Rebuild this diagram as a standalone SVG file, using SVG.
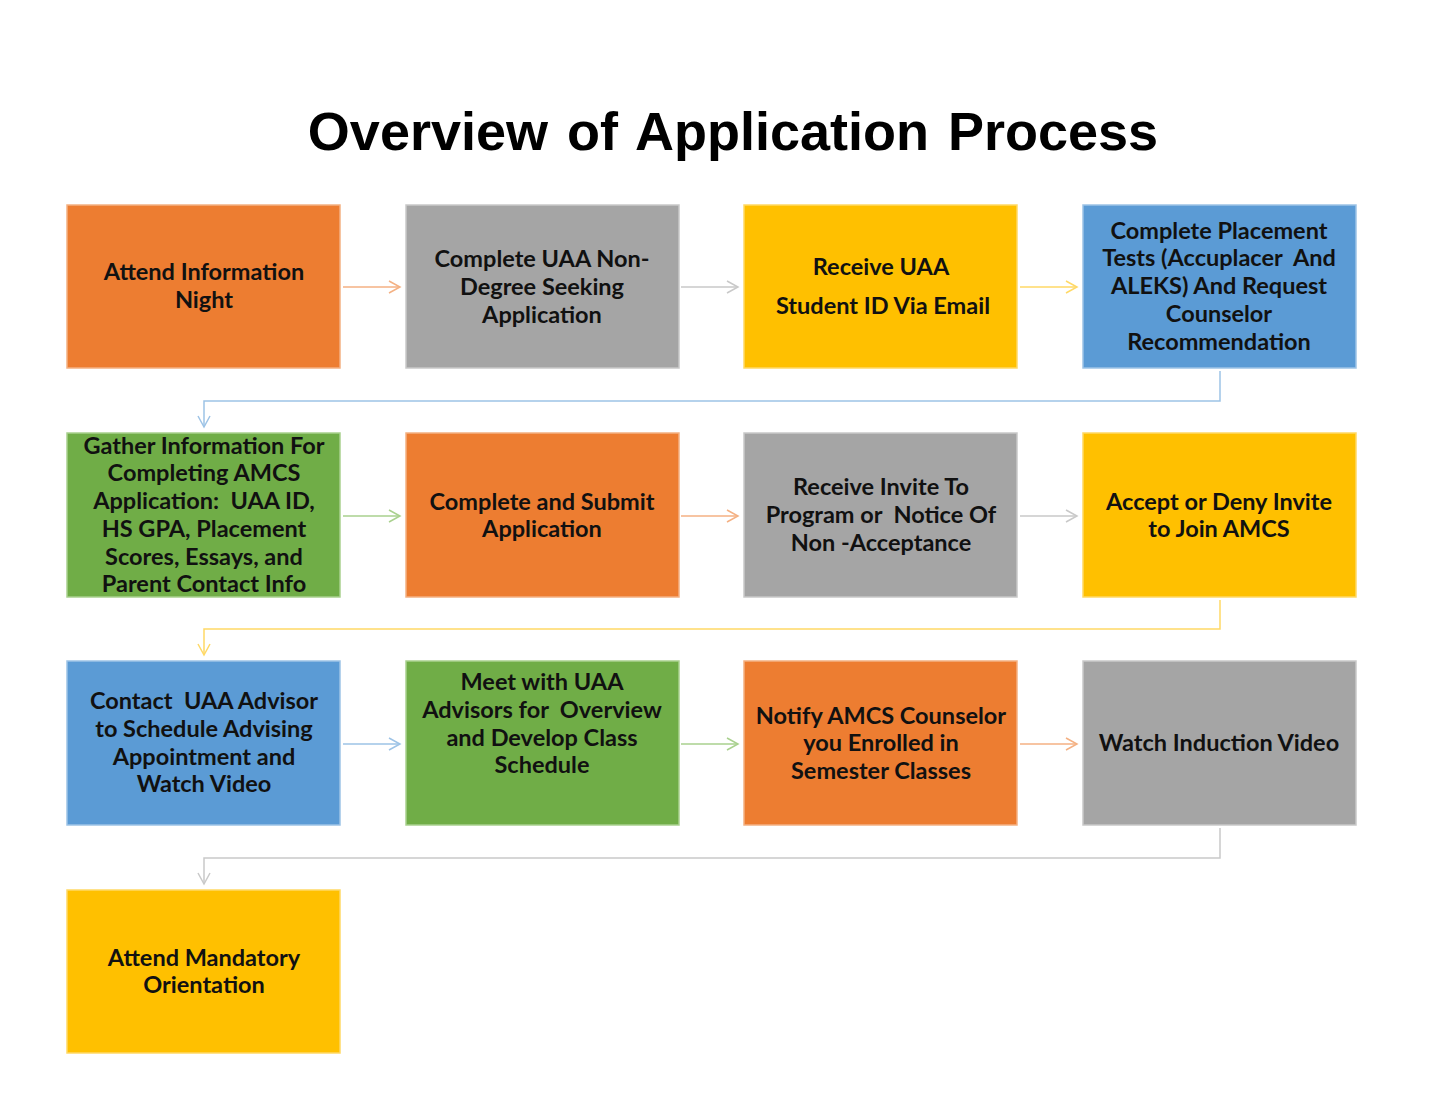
<svg xmlns="http://www.w3.org/2000/svg" width="1440" height="1112" viewBox="0 0 1440 1112">
<style>
.t{font-family:Lato,"Liberation Sans",sans-serif;font-weight:bold;font-size:23.5px;fill:#111;text-anchor:middle;white-space:pre}
.title{font-family:"Liberation Sans",Arial,sans-serif;font-weight:bold;font-size:54px;fill:#000;text-anchor:middle;word-spacing:4px}
.or{fill:#ED7D31;stroke:#F4B183;stroke-width:1.5}
.gr{fill:#A5A5A5;stroke:#C9C9C9;stroke-width:1.5}
.go{fill:#FFC000;stroke:#FFD966;stroke-width:1.5}
.bl{fill:#5B9BD5;stroke:#9DC3E6;stroke-width:1.5}
.gn{fill:#70AD47;stroke:#A9D18E;stroke-width:1.5}
.c{fill:none;stroke-width:1.5}
</style>
<defs>
<marker id="mo" markerWidth="14" markerHeight="14" refX="12" refY="7" orient="auto" markerUnits="userSpaceOnUse"><path d="M1,1 L12,7 L1,13" fill="none" stroke="#F4B183" stroke-width="1.5"/></marker>
<marker id="mg" markerWidth="14" markerHeight="14" refX="12" refY="7" orient="auto" markerUnits="userSpaceOnUse"><path d="M1,1 L12,7 L1,13" fill="none" stroke="#C9C9C9" stroke-width="1.5"/></marker>
<marker id="my" markerWidth="14" markerHeight="14" refX="12" refY="7" orient="auto" markerUnits="userSpaceOnUse"><path d="M1,1 L12,7 L1,13" fill="none" stroke="#FFD966" stroke-width="1.5"/></marker>
<marker id="mb" markerWidth="14" markerHeight="14" refX="12" refY="7" orient="auto" markerUnits="userSpaceOnUse"><path d="M1,1 L12,7 L1,13" fill="none" stroke="#9DC3E6" stroke-width="1.5"/></marker>
<marker id="mn" markerWidth="14" markerHeight="14" refX="12" refY="7" orient="auto" markerUnits="userSpaceOnUse"><path d="M1,1 L12,7 L1,13" fill="none" stroke="#A9D18E" stroke-width="1.5"/></marker>
</defs>
<rect width="1440" height="1112" fill="#fff"/>
<text class="title" x="733" y="150">Overview of Application Process</text>

<g id="connectors">
<path class="c" stroke="#F4B183" marker-end="url(#mo)" d="M343,287 H400"/>
<path class="c" stroke="#C9C9C9" marker-end="url(#mg)" d="M681,287 H738"/>
<path class="c" stroke="#FFD966" marker-end="url(#my)" d="M1020,287 H1077"/>
<path class="c" stroke="#9DC3E6" marker-end="url(#mb)" d="M1220,371 V401 H204 V427"/>
<path class="c" stroke="#A9D18E" marker-end="url(#mn)" d="M343,516 H400"/>
<path class="c" stroke="#F4B183" marker-end="url(#mo)" d="M681,516 H738"/>
<path class="c" stroke="#C9C9C9" marker-end="url(#mg)" d="M1020,516 H1077"/>
<path class="c" stroke="#FFD966" marker-end="url(#my)" d="M1220,600 V629 H204 V655"/>
<path class="c" stroke="#9DC3E6" marker-end="url(#mb)" d="M343,744 H400"/>
<path class="c" stroke="#A9D18E" marker-end="url(#mn)" d="M681,744 H738"/>
<path class="c" stroke="#F4B183" marker-end="url(#mo)" d="M1020,744 H1077"/>
<path class="c" stroke="#C9C9C9" marker-end="url(#mg)" d="M1220,828 V858 H204 V884"/>
</g>

<g id="n1"><rect class="or" x="67" y="205" width="273" height="163"/>
<text class="t" x="204" y="280">Attend Information</text><text class="t" x="204" y="308">Night</text></g>
<g id="n2"><rect class="gr" x="406" y="205" width="273" height="163"/>
<text class="t" x="542" y="267">Complete UAA Non-</text><text class="t" x="542" y="295">Degree Seeking</text><text class="t" x="542" y="323">Application</text></g>
<g id="n3"><rect class="go" x="744" y="205" width="273" height="163"/>
<text class="t" x="881" y="275">Receive UAA</text><text class="t" x="883" y="314">Student ID Via Email</text></g>
<g id="n4"><rect class="bl" x="1083" y="205" width="273" height="163"/>
<text class="t" x="1219" y="239">Complete Placement</text><text class="t" x="1219" y="266">Tests (Accuplacer  And</text><text class="t" x="1219" y="294">ALEKS) And Request</text><text class="t" x="1219" y="322">Counselor</text><text class="t" x="1219" y="350">Recommendation</text></g>

<g id="n5"><rect class="gn" x="67" y="433" width="273" height="164"/>
<text class="t" x="204" y="454">Gather Information For</text><text class="t" x="204" y="481">Completing AMCS</text><text class="t" x="204" y="509">Application:  UAA ID,</text><text class="t" x="204" y="537">HS GPA, Placement</text><text class="t" x="204" y="565">Scores, Essays, and</text><text class="t" x="204" y="592">Parent Contact Info</text></g>
<g id="n6"><rect class="or" x="406" y="433" width="273" height="164"/>
<text class="t" x="542" y="510">Complete and Submit</text><text class="t" x="542" y="537">Application</text></g>
<g id="n7"><rect class="gr" x="744" y="433" width="273" height="164"/>
<text class="t" x="881" y="495">Receive Invite To</text><text class="t" x="881" y="523">Program or  Notice Of</text><text class="t" x="881" y="551">Non -Acceptance</text></g>
<g id="n8"><rect class="go" x="1083" y="433" width="273" height="164"/>
<text class="t" x="1219" y="510">Accept or Deny Invite</text><text class="t" x="1219" y="537">to Join AMCS</text></g>

<g id="n9"><rect class="bl" x="67" y="661" width="273" height="164"/>
<text class="t" x="204" y="709">Contact  UAA Advisor</text><text class="t" x="204" y="737">to Schedule Advising</text><text class="t" x="204" y="765">Appointment and</text><text class="t" x="204" y="792">Watch Video</text></g>
<g id="n10"><rect class="gn" x="406" y="661" width="273" height="164"/>
<text class="t" x="542" y="690">Meet with UAA</text><text class="t" x="542" y="718">Advisors for  Overview</text><text class="t" x="542" y="746">and Develop Class</text><text class="t" x="542" y="773">Schedule</text></g>
<g id="n11"><rect class="or" x="744" y="661" width="273" height="164"/>
<text class="t" x="881" y="724">Notify AMCS Counselor</text><text class="t" x="881" y="751">you Enrolled in</text><text class="t" x="881" y="779">Semester Classes</text></g>
<g id="n12"><rect class="gr" x="1083" y="661" width="273" height="164"/>
<text class="t" x="1219" y="751">Watch Induction Video</text></g>

<g id="n13"><rect class="go" x="67" y="890" width="273" height="163"/>
<text class="t" x="204" y="966">Attend Mandatory</text><text class="t" x="204" y="993">Orientation</text></g>
</svg>
